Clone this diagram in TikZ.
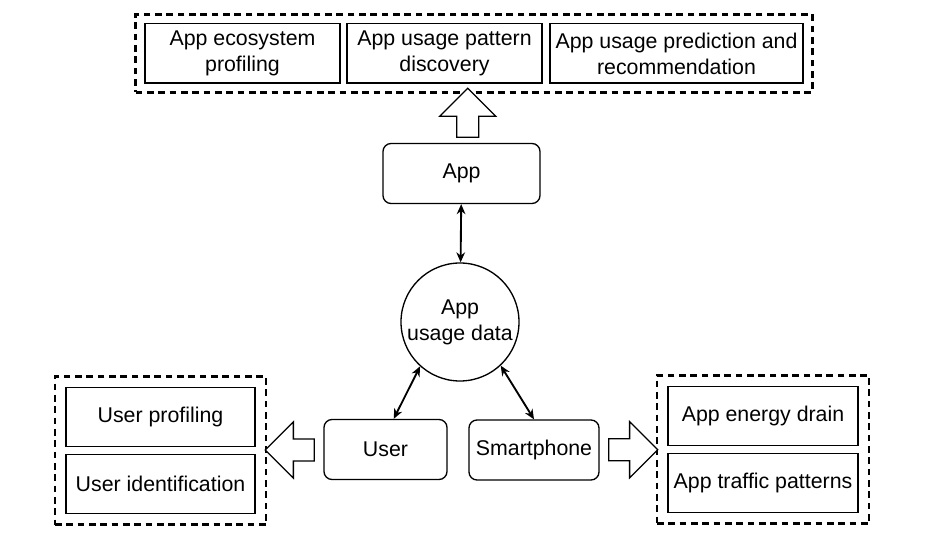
\documentclass[tikz,border=0pt]{standalone}
\usepackage{fontspec}
\setmainfont{Liberation Sans}
\usepackage{tikz}
\usetikzlibrary{shapes.geometric, shapes.arrows, arrows.meta, fit, calc}
\tikzstyle{arrow} = [line width=1.4pt,<->,>={Stealth[length=7.5pt,width=6.5pt]}]
\tikzstyle{source} = [rectangle, rounded corners=6pt, draw=black, line width=1pt, minimum height=45pt, text centered]
\tikzstyle{task} = [rectangle, draw=black, line width=1pt, minimum height=44.5pt, align=center]
\tikzstyle{group} = [draw=black, line width=1.9pt, dash pattern=on 5pt off 3.5pt]
\tikzstyle{hollow} = [single arrow, draw=black, line width=1pt, fill=white, minimum height=36.75pt, single arrow head extend=12.75pt, inner sep=7.8pt]

\begin{document}
\begin{tikzpicture}[x=0.75pt, y=0.75pt, node distance=50.25pt, font=\fontsize{16}{19.5}\selectfont]
    \useasboundingbox (0,0) rectangle (927,535);

    \node (app) [source, minimum width=117.75pt] at (461.5,361.5) {App};
    \node (data) [circle, draw=black, line width=1pt, minimum size=88.5pt, inner sep=0pt, align=center] at (460,213) {App\\usage data};
    \node (user) [source, minimum width=92.25pt] at (385.5,85.5) {User};
    \node (phone) [source, minimum width=97.5pt] at (534,85) {Smartphone};

    % what app data is used for
    \node (eco) [task, minimum width=146.25pt] at (242.5,481.5) {App ecosystem\\profiling};
    \node (pattern) [task, minimum width=146.25pt, right of=eco, xshift=101.25pt] {App usage pattern\\discovery};
    \node (predict) [task, minimum width=189.75pt, right of=pattern, xshift=123.75pt] {App usage prediction and\\recommendation};
    \node (topgroup) [group, fit=(eco)(pattern)(predict), inner sep=6.5pt] {};

    \node (uprofile) [task, minimum width=141.75pt] at (160.5,118) {User profiling};
    \node (uident) [task, minimum width=141.75pt, below of=uprofile] {User identification};
    \node (leftgroup) [group, fit=(uprofile)(uident), inner sep=7.8pt] {};

    \node (energy) [task, minimum width=142.5pt] at (763,119) {App energy drain};
    \node (traffic) [task, minimum width=142.5pt, below of=energy] {App traffic patterns};
    \node (rightgroup) [group, fit=(energy)(traffic), inner sep=7.8pt] {};

    \draw [arrow] (app) -- (data);
    \draw [arrow] (data.228) -- (user.75);
    \draw [arrow] (data.-47) -- (phone.north);

    \node (uparrow) [hollow, rotate=90] at ($(app.north)!0.5!(topgroup.south)$) {};
    \node (leftarrow) [hollow, rotate=180] at ($(user.west)!0.5!(leftgroup.east)$) {};
    \node (rightarrow) [hollow] at ($(phone.east)!0.5!(rightgroup.west)$) {};

\end{tikzpicture}
\end{document}
